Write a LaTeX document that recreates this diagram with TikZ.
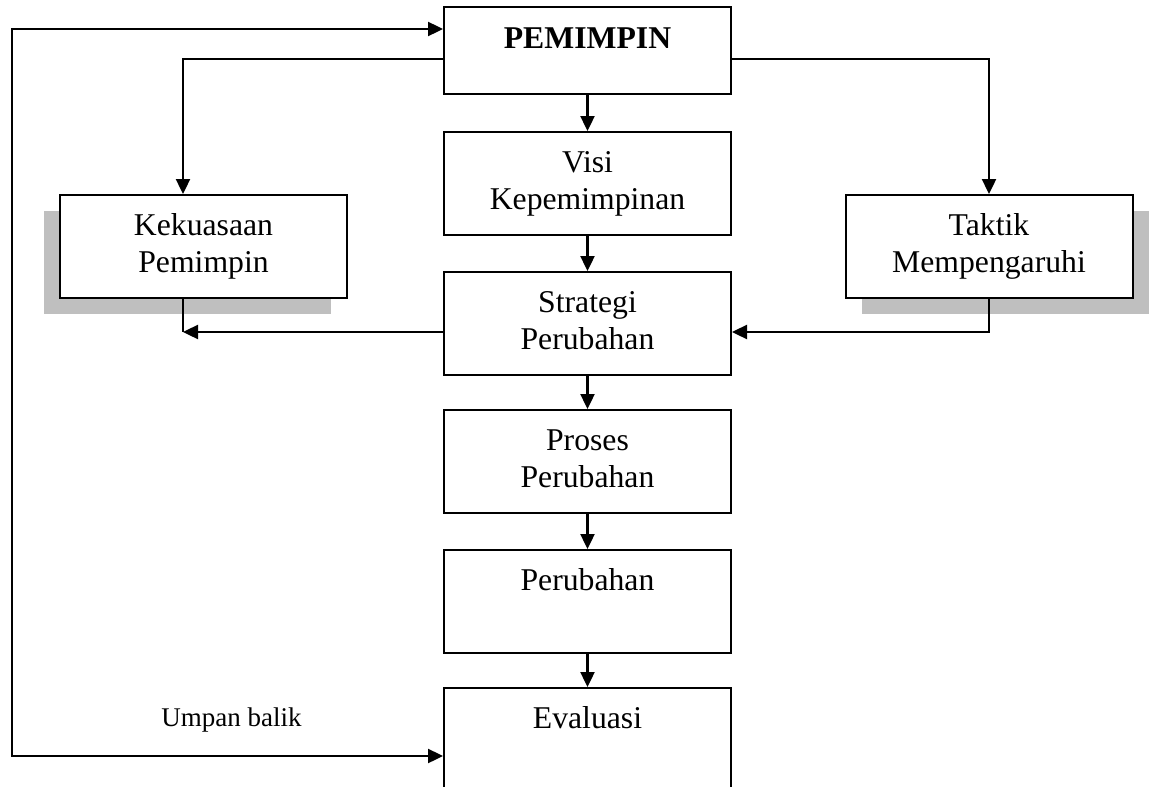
\documentclass[tikz,border=0pt]{standalone}
\usepackage{fontspec}
\setmainfont{Liberation Serif}
\usetikzlibrary{arrows.meta,shadows}
\newcommand{\boxlines}[2]{\begin{tabular}{@{}c@{}}#1\\\mbox{}#2\end{tabular}}
\begin{document}
\begin{tikzpicture}[x=1pt,y=-1pt,
  every node/.style={inner sep=0pt},
  flowbox/.style={draw=black, line width=2pt, fill=white, minimum width=287pt,
    minimum height=103pt, font=\fontsize{31.7}{36.7}\selectfont},
  lshadow/.style={drop shadow={shadow xshift=-16pt, shadow yshift=-16pt, fill=black!25, opacity=1}},
  rshadow/.style={drop shadow={shadow xshift=16pt, shadow yshift=-16pt, fill=black!25, opacity=1}},
  link/.style={line width=2.4pt, -{Triangle[length=15pt,width=14pt]}},
  bothlink/.style={line width=2.4pt, {Triangle[length=15pt,width=14pt]}-{Triangle[length=15pt,width=14pt]}},
  plain/.style={line width=2.4pt},
  note/.style={font=\fontsize{27}{32}\selectfont}
]
\useasboundingbox (0,0) rectangle (1152,787);

% boxes
\node[flowbox, minimum height=87pt, text height=22pt, text depth=26pt] (pem) at (587.5,50.5) {\textbf{PEMIMPIN}};
\node[flowbox] (visi)   at (587.5,183.5) {\boxlines{Visi}{Kepemimpinan}};
\node[flowbox] (strat)  at (587.5,323.5) {\boxlines{Strategi}{Perubahan}};
\node[flowbox] (proses) at (587.5,461.5) {\boxlines{Proses}{Perubahan}};
\node[flowbox] (perub)  at (587.5,601.5) {\boxlines{Perubahan}{}};
\node[flowbox] (eval)   at (587.5,739.5) {\boxlines{Evaluasi}{}};
\node[flowbox, lshadow] (kek) at (203.5,246.5) {\boxlines{Kekuasaan}{Pemimpin}};
\node[flowbox, rshadow] (tak) at (989,246.5) {\boxlines{Taktik}{Mempengaruhi}};

% routing points
\coordinate (fbTop) at (12,29);
\coordinate (fbBot) at (12,756);
\coordinate (kekIn) at (183,58.7);
\coordinate (takIn) at (989,58.7);
\coordinate (kekOut) at (183,332);
\coordinate (takOut) at (989,332);

% main column
\draw[link] (pem.south) -- (visi.north);
\draw[link] (visi.south) -- (strat.north);
\draw[link] (strat.south) -- (proses.north);
\draw[link] (proses.south) -- (perub.north);
\draw[link] (perub.south) -- (eval.north);

% branches from PEMIMPIN
\draw[link] (pem.west |- kekIn) -- (kekIn) -- (kekIn |- kek.north);
\draw[link] (pem.east |- takIn) -- (takIn) -- (tak.north);

% into Strategi
\draw[plain] (kekOut |- kek.south) -- (kekOut);
\draw[link] (strat.west |- kekOut) -- (kekOut);
\draw[link] (tak.south) -- (takOut) -- (strat.east |- takOut);

% feedback loop
\draw[bothlink] (pem.west |- fbTop) -- (fbTop) -- (fbBot) -- (eval.west |- fbBot);
\node[note, anchor=base] (umpan) at (231.5,726) {Umpan balik};
\end{tikzpicture}
\end{document}
